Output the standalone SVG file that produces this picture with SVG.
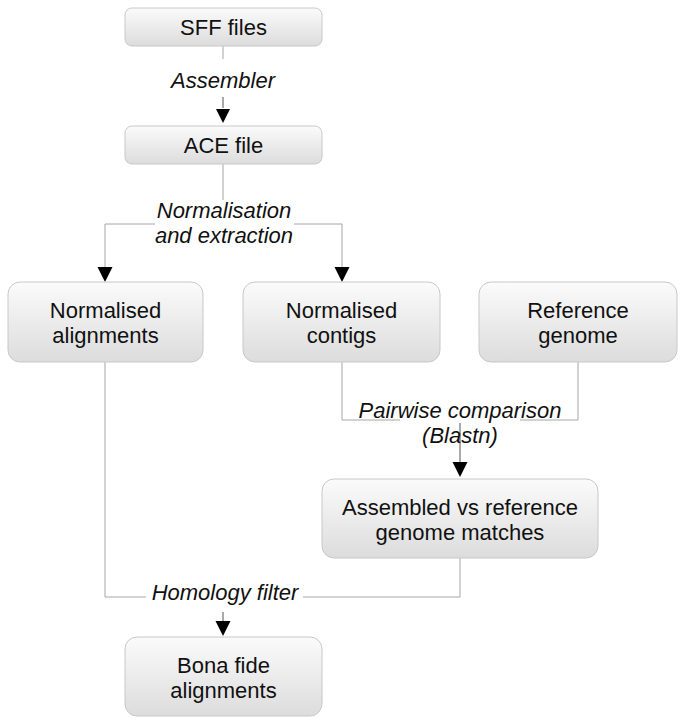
<svg xmlns="http://www.w3.org/2000/svg" width="685" height="725" viewBox="0 0 685 725">
<defs>
<linearGradient id="g" x1="0" y1="0" x2="0" y2="1">
<stop offset="0" stop-color="#fbfbfb"/>
<stop offset="1" stop-color="#dcdcdc"/>
</linearGradient>
</defs>
<style>
.box{fill:url(#g);stroke:#c8c8c8;stroke-width:1}
.t{font-family:"Liberation Sans",Arial,sans-serif;font-size:22px;fill:#111;text-anchor:middle}
.i{font-style:italic}
.c{fill:none;stroke:#a6a6a6;stroke-width:1}
.a{fill:none;stroke:#555;stroke-width:1}
</style>
<rect width="685" height="725" fill="#fff"/>
<g id="connectors">
<line class="c" x1="223" y1="46" x2="223" y2="59"/>
<path class="a" d="M223,97 V108"/>
<path d="M216,109 H230 L223,123 Z"/>
<line class="c" x1="223" y1="164" x2="223" y2="200"/>
<path class="c" d="M155,224 H105 V268"/>
<path class="c" d="M294,224 H342 V268"/>
<path d="M97.5,267 H112.5 L105,282 Z"/>
<path d="M334.5,267 H349.5 L342,282 Z"/>
<path class="c" d="M342,362 V420 H400"/>
<path class="c" d="M520,420 H578 V362"/>
<path class="a" d="M460,423 V463"/>
<path d="M452.5,462 H467.5 L460,477 Z"/>
<path class="c" d="M105,362 V597 H146"/>
<path class="c" d="M303,597 H460 V558"/>
<path class="a" d="M223,612 V623"/>
<path d="M215.5,621 H230.5 L223,636 Z"/>
</g>
<g id="label-assembler"><text class="t i" x="223" y="88">Assembler</text></g>
<g id="label-normalisation"><text class="t i" x="224" y="218">Normalisation</text><text class="t i" x="224" y="243">and extraction</text></g>
<g id="label-pairwise"><text class="t i" x="460" y="418">Pairwise comparison</text><text class="t i" x="460" y="443">(Blastn)</text></g>
<g id="label-homology"><text class="t i" x="225" y="600">Homology filter</text></g>
<g id="sff"><rect class="box" x="125" y="8" width="197" height="38" rx="7"/><text class="t" x="223.5" y="35">SFF files</text></g>
<g id="ace"><rect class="box" x="125" y="126" width="197" height="38" rx="7"/><text class="t" x="223.5" y="153">ACE file</text></g>
<g id="norm-align"><rect class="box" x="8" y="282" width="195" height="80" rx="12"/><text class="t" x="105.5" y="318">Normalised</text><text class="t" x="105.5" y="343">alignments</text></g>
<g id="norm-contigs"><rect class="box" x="243" y="282" width="197" height="80" rx="12"/><text class="t" x="341.5" y="318">Normalised</text><text class="t" x="341.5" y="343">contigs</text></g>
<g id="ref-genome"><rect class="box" x="479" y="282" width="198" height="80" rx="12"/><text class="t" x="578" y="318">Reference</text><text class="t" x="578" y="343">genome</text></g>
<g id="assembled"><rect class="box" x="322" y="479" width="276" height="79" rx="12"/><text class="t" x="460" y="515">Assembled vs reference</text><text class="t" x="460" y="540">genome matches</text></g>
<g id="bona-fide"><rect class="box" x="125" y="637" width="197" height="79" rx="12"/><text class="t" x="223.5" y="673">Bona fide</text><text class="t" x="223.5" y="698">alignments</text></g>
</svg>
